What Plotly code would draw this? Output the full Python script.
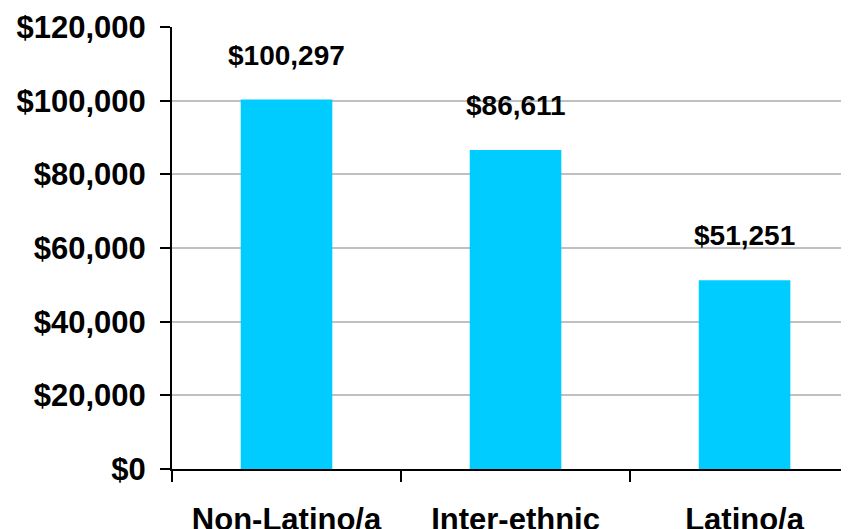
import plotly.graph_objects as go

categories = ["Non-Latino/a", "Inter-ethnic", "Latino/a"]
values = [100297, 86611, 51251]
value_labels = ["$100,297", "$86,611", "$51,251"]
y_ticks = [0, 20000, 40000, 60000, 80000, 100000, 120000]

FONT = "Liberation Sans, Arial, sans-serif"

fig = go.Figure()
fig.add_trace(go.Bar(
    x=categories, y=values, width=0.4,
    marker=dict(color="#00CCFF", line=dict(width=0)),
    hoverinfo="skip",
))

for c, v, t in zip(categories, values, value_labels):
    fig.add_annotation(
        x=c, y=v, text="<b>" + t + "</b>", showarrow=False,
        yanchor="bottom", xanchor="center", yshift=27,
        font=dict(family=FONT, size=28, color="black"),
    )

fig.update_layout(
    width=849, height=529,
    margin=dict(l=164, r=0, t=19, b=68),
    paper_bgcolor="white", plot_bgcolor="white",
    showlegend=False,
    font=dict(family=FONT, color="black"),
)
fig.update_xaxes(
    type="category",
    range=[-0.5, 2.491],
    tickson="boundaries",
    ticks="outside", ticklen=11, tickwidth=2, tickcolor="black",
    showline=True, linecolor="black", linewidth=2,
    showgrid=False, zeroline=False,
    tickfont=dict(family=FONT, size=31, color="black"),
    ticklabelstandoff=22,
    tickvals=categories,
    ticktext=["<b>" + c + "</b>" for c in categories],
)
fig.update_yaxes(
    range=[0, 120000],
    tickvals=y_ticks,
    ticktext=["<b>$" + format(v, ",") + "</b>" for v in y_ticks],
    ticks="outside", ticklen=10, tickwidth=2, tickcolor="black",
    showline=True, linecolor="black", linewidth=2,
    showgrid=True, gridcolor="#c0c0c0", gridwidth=2,
    zeroline=False,
    tickfont=dict(family=FONT, size=31, color="black"),
    ticklabelstandoff=8,
)

fig.write_html("out.html")
